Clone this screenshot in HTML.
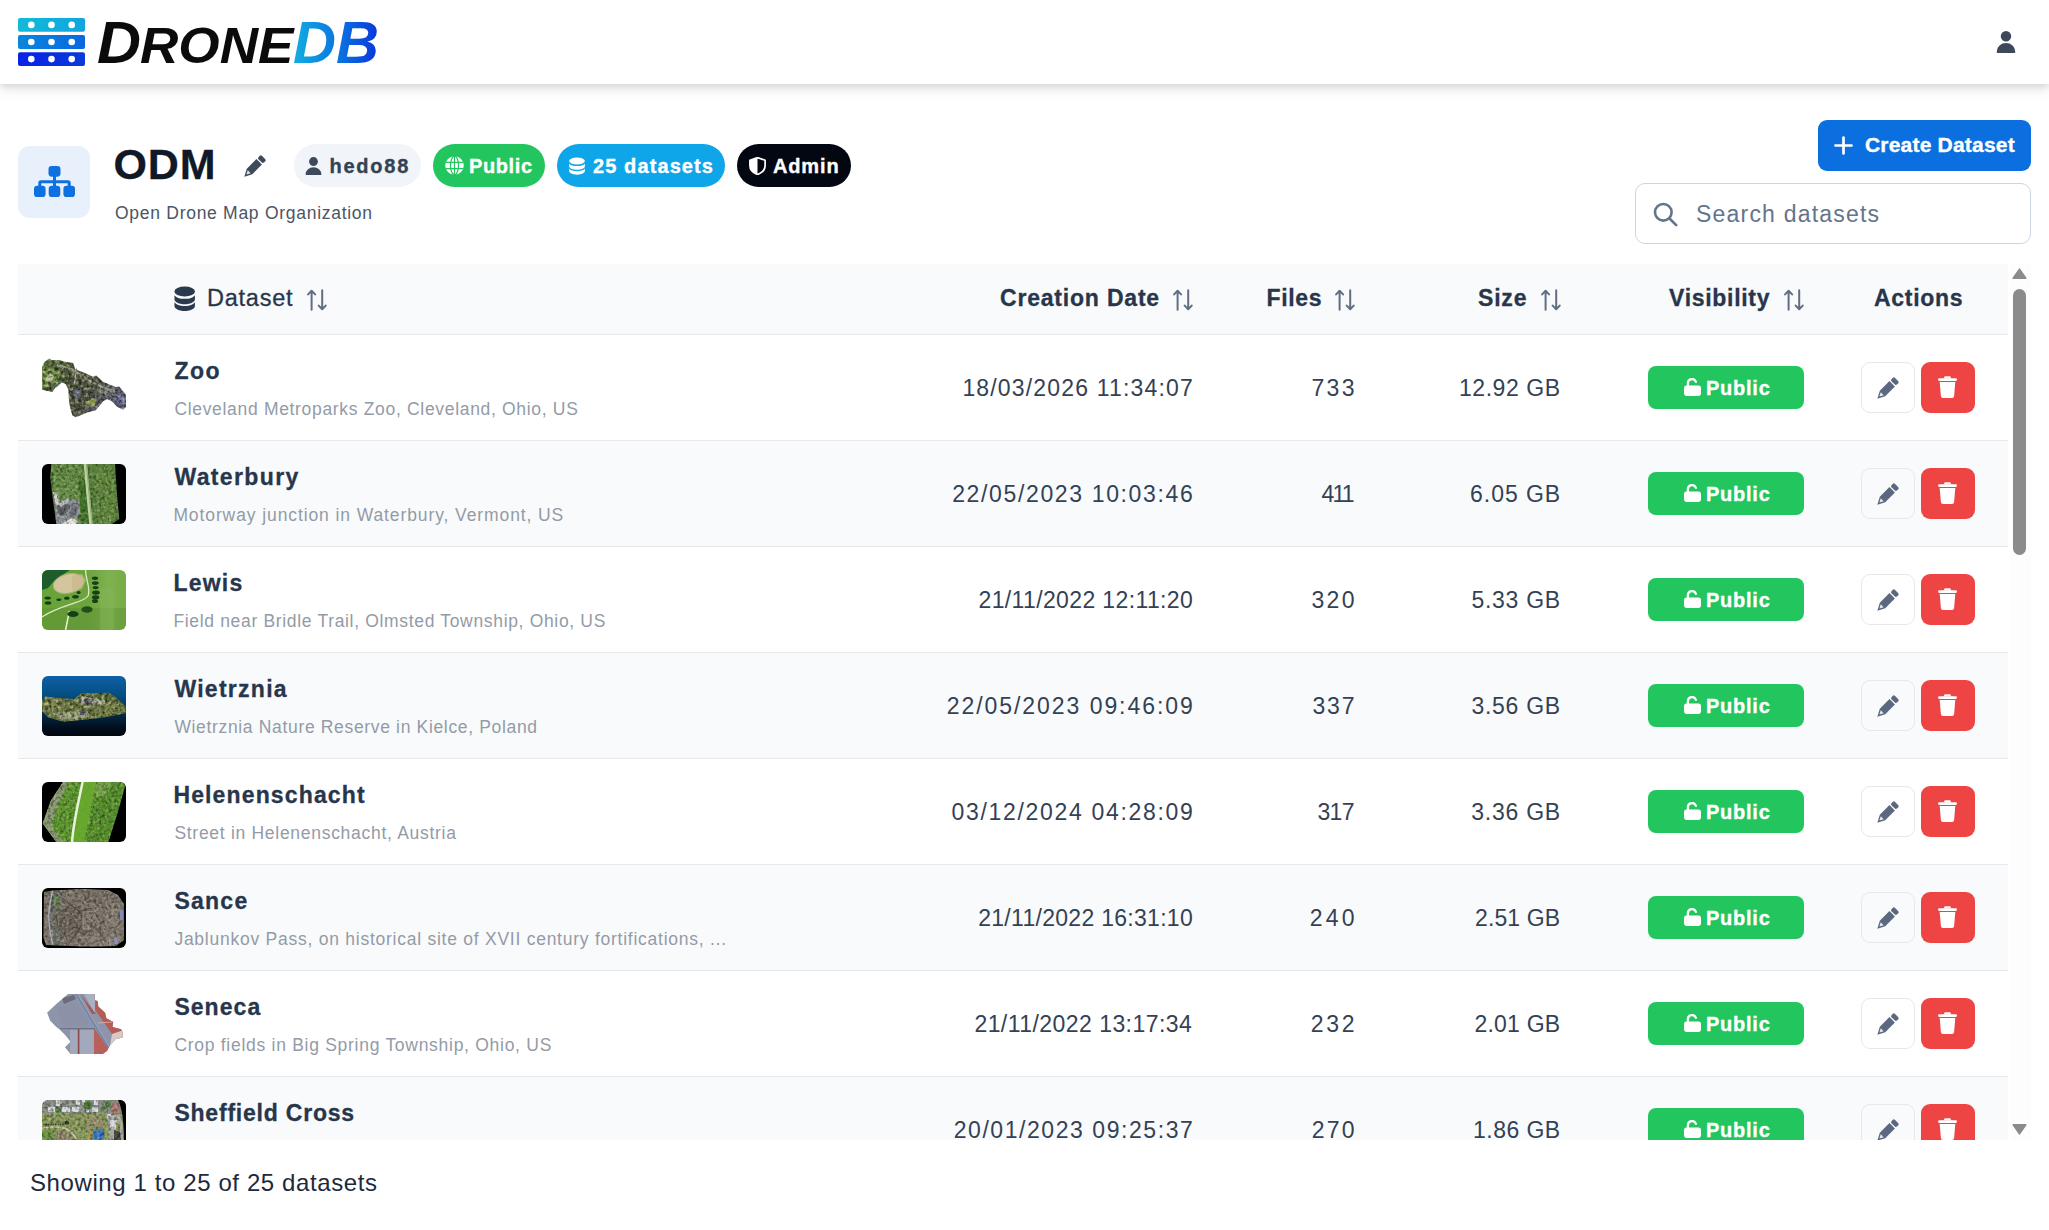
<!DOCTYPE html>
<html lang="en">
<head>
<meta charset="utf-8">
<title>DroneDB - ODM</title>
<style>
*{box-sizing:border-box;margin:0;padding:0}
html,body{width:2049px;height:1230px;overflow:hidden;background:#fff}
body{font-family:"Liberation Sans",sans-serif;color:#334155;position:relative}
svg{display:block}
.abs{position:absolute}
/* ---------- top bar ---------- */
#topbar{position:absolute;left:0;top:0;width:2049px;height:84px;background:#fff;box-shadow:0 3px 7px rgba(0,0,0,.13),0 8px 14px rgba(0,0,0,.05);z-index:5}
#logo{position:absolute;left:18px;top:18px;width:67px;height:48px}
#brand{position:absolute;left:95px;top:0;height:84px;white-space:nowrap;font-style:italic;font-weight:bold;color:#0b0b0b}
#brand span{position:absolute;bottom:21px;line-height:1;display:block}
#usericon{position:absolute;left:1996.200px;top:31.400px;width:20px;height:22px}
/* ---------- org header ---------- */
#orgbox{left:18px;top:146px;width:72px;height:72px;border-radius:12px;background:#e8f0fc}
#orgbox svg{position:absolute;left:16px;top:20px;width:41px;height:31px}
#orgname{left:113.500px;top:141px;font-size:43px;line-height:46px;font-weight:bold;color:#111827;letter-spacing:.9px}
#orgdesc{left:115px;top:201px;font-size:17.5px;line-height:24px;color:#4b5563;letter-spacing:.72px}
.chip{position:absolute;top:144px;height:43px;border-radius:22px;font-weight:bold;font-size:20px;line-height:43px;color:#fff;white-space:nowrap}
.chip svg{position:absolute}
.chip span{position:absolute;top:0}
#btncreate{left:1818px;top:120px;width:213px;height:51px;border-radius:9px;background:#0b6fe0;color:#fff;font-weight:bold;font-size:21px;line-height:51px}
#search{left:1635px;top:183px;width:396px;height:61px;border-radius:10px;border:1.4px solid #cdd5df;background:#fff;color:#64748b;font-size:23px;line-height:58px}
/* ---------- table ---------- */
#tablewrap{left:18px;top:264px;width:1990px;height:876px;overflow:hidden}
.thead{position:absolute;left:0;top:0;width:1990px;height:71px;background:#f9fafb;border-bottom:1.4px solid #e6e8ec;font-size:23px;font-weight:bold;color:#27364b}
.thead .h{position:absolute;top:0;line-height:68px;white-space:nowrap}
.thead svg.sort{position:absolute;top:24.500px;width:20px;height:22px;margin-left:-.5px}
.row{position:absolute;left:0;width:1990px;height:106px;border-bottom:1.4px solid #e6e8ec;background:#fff}
.row.alt{background:#f9fafb}
.thumb{position:absolute;left:24px;top:23px;width:84px;height:60px;border-radius:6px;overflow:hidden}
.nm{position:absolute;left:156px;top:20.600px;font-size:23px;line-height:30px;font-weight:bold;color:#27364b;white-space:nowrap}
.ds{position:absolute;left:156px;top:62px;font-size:17.5px;line-height:24px;color:#939ba7;white-space:nowrap}
.v{position:absolute;top:36.700px;font-size:23px;line-height:32px;color:#334155;white-space:nowrap}
.pub{position:absolute;left:1630px;top:31px;width:156px;height:43px;border-radius:8px;background:#22c55e;color:#fff;font-weight:bold;font-size:20px;line-height:43px}
.pub svg{position:absolute;left:36px;top:12px;width:17px;height:18px}
.pub span{position:absolute;left:58px;top:.6px;letter-spacing:.75px}
.ed{position:absolute;left:1843px;top:27px;width:54px;height:51px;border-radius:9px;border:1.4px solid #e5e8ed;background:#fff}
.row.alt .ed{background:#f9fafb}
.ed svg{position:absolute;left:11.600px;top:14px;width:25px;height:25px}
.dl{position:absolute;left:1903px;top:27px;width:54px;height:51px;border-radius:9px;background:#ef4444}
.dl svg{position:absolute;left:17px;top:14px;width:19px;height:22px}
.chip span,.pub span,#btncreate span{-webkit-text-stroke:.35px currentColor}
.nm,.thead .h,#orgname{-webkit-text-stroke:.3px currentColor}
/* scrollbar */
#sbar{left:2011px;top:264px;width:20px;height:876px;background:#fdfdfd}
#sthumb{left:2013px;top:289px;width:13px;height:266px;border-radius:7px;background:#8b8b8b}
#footer{left:30px;top:1165.500px;font-size:24px;line-height:34px;color:#1e293b;letter-spacing:.6px;white-space:nowrap}
</style>
</head>
<body>
<svg width="0" height="0" style="position:absolute">
<defs>
<linearGradient id="gdb" x1="0" y1="0" x2="1" y2="0"><stop offset="0" stop-color="#12aee0"/><stop offset=".5" stop-color="#0b78e0"/><stop offset="1" stop-color="#0a35dd"/></linearGradient>
<filter id="nz" x="0" y="0" width="100%" height="100%" color-interpolation-filters="sRGB"><feTurbulence type="fractalNoise" baseFrequency=".3" numOctaves="2" seed="4" result="n"/><feColorMatrix in="n" type="matrix" values="0 0 0 0 0 0 0 0 0 0 0 0 0 0 0 1.700 0 0 0 -.72" result="a"/><feComposite in="a" in2="SourceGraphic" operator="in" result="dk"/><feColorMatrix in="n" type="matrix" values="0 0 0 0 1 0 0 0 0 1 0 0 0 0 .85 0 1.300 0 0 -.62" result="b"/><feComposite in="b" in2="SourceGraphic" operator="in" result="lt"/><feMerge><feMergeNode in="SourceGraphic"/><feMergeNode in="dk"/><feMergeNode in="lt"/></feMerge></filter>
<filter id="nz2" x="0" y="0" width="100%" height="100%" color-interpolation-filters="sRGB"><feTurbulence type="fractalNoise" baseFrequency=".33" numOctaves="2" seed="9" result="n"/><feColorMatrix in="n" type="matrix" values="0 0 0 0 0 0 0 0 0 0 0 0 0 0 0 1.200 0 0 0 -.52" result="a"/><feComposite in="a" in2="SourceGraphic" operator="in" result="dk"/><feColorMatrix in="n" type="matrix" values="0 0 0 0 1 0 0 0 0 1 0 0 0 0 .8 0 .9 0 0 -.43" result="b"/><feComposite in="b" in2="SourceGraphic" operator="in" result="lt"/><feMerge><feMergeNode in="SourceGraphic"/><feMergeNode in="dk"/><feMergeNode in="lt"/></feMerge></filter>
<symbol id="i-pencil" viewBox="0 0 24 24"><g transform="rotate(45 12 12)"><rect x="8.300" y="-1.700" width="7.400" height="4.700" rx="1.700"/><path d="M8.300 4.300h7.400v13.100l-3.700 7-3.700-7z"/><path d="M10 17.800h4l-2 3.800z" fill="#fff" fill-opacity=".85"/></g></symbol>
<symbol id="i-user" viewBox="0 0 20 22"><circle cx="10" cy="5.300" r="5.200"/><path d="M.8 21.300v-1a9.200 8.300 0 0 1 18.400 0v1a.7.7 0 0 1-.7.700h-17a.7.700 0 0 1-.7-.700z"/></symbol>
<symbol id="i-db" viewBox="0 0 24 24"><ellipse cx="12" cy="5.200" rx="10.500" ry="4.700"/><path d="M1.500 8.600c1.600 2.300 5.700 3.500 10.500 3.500s8.900-1.200 10.500-3.500v3.800c0 2.600-4.700 4.700-10.500 4.700s-10.500-2.100-10.500-4.700z"/><path d="M1.500 15.400c1.600 2.300 5.700 3.500 10.500 3.500s8.900-1.200 10.500-3.500v3.400c0 2.600-4.700 4.700-10.500 4.700s-10.500-2.100-10.500-4.700z"/></symbol>
<symbol id="i-sort" viewBox="0 0 20 22"><g fill="none" stroke="currentColor" stroke-width="2" stroke-linecap="round" stroke-linejoin="round"><path d="M4.600 20.700v-18.800M1.100 5.400l3.500-3.700 3.500 3.700"/><path d="M15.200 1.300v18.800M11.700 16.600l3.500 3.700 3.500-3.700"/></g></symbol>
<symbol id="i-lock" viewBox="0 0 17 18"><rect x="0" y="7.600" width="17" height="10.400" rx="2.400" fill="#fff"/><path d="M3.900 8V5.200a4.100 4.100 0 0 1 8-1.300" fill="none" stroke="#fff" stroke-width="2.300" stroke-linecap="round"/></symbol>
<symbol id="i-trash" viewBox="0 0 19 22"><path d="M6.700 0.300h5.600l1 2.100h-7.600z" fill="#fff"/><rect x="0" y="2.200" width="19" height="2.700" rx="1.300" fill="#fff"/><path d="M1.700 6h15.600l-1.200 14a2.100 2.100 0 0 1-2.100 2h-9a2.100 2.100 0 0 1-2.100-2z" fill="#fff"/></symbol>
</defs>
</svg>

<!-- ============ TOP BAR ============ -->
<div id="topbar">
  <svg id="logo" viewBox="0 0 67 48">
    <defs>
      <linearGradient id="lg1" x1="0" y1="0" x2="1" y2="0"><stop offset="0" stop-color="#13b9d9"/><stop offset="1" stop-color="#0fa6e0"/></linearGradient>
      <linearGradient id="lg2" x1="0" y1="0" x2="1" y2="0"><stop offset="0" stop-color="#0a86dc"/><stop offset="1" stop-color="#0868e0"/></linearGradient>
      <linearGradient id="lg3" x1="0" y1="0" x2="1" y2="0"><stop offset="0" stop-color="#0722e8"/><stop offset="1" stop-color="#0a3ad8"/></linearGradient>
    </defs>
    <rect x="0" y="0" width="67" height="13.800" rx="2" fill="url(#lg1)"/>
    <rect x="0" y="17.100" width="67" height="13.800" rx="2" fill="url(#lg2)"/>
    <rect x="0" y="34.200" width="67" height="13.800" rx="2" fill="url(#lg3)"/>
    <g fill="#fff"><circle cx="13.300" cy="6.900" r="3.300"/><circle cx="33.500" cy="6.900" r="3.300"/><circle cx="53.700" cy="6.900" r="3.300"/>
    <circle cx="13.300" cy="24" r="3.300"/><circle cx="33.500" cy="24" r="3.300"/><circle cx="53.700" cy="24" r="3.300"/>
    <circle cx="13.300" cy="41.100" r="3.300"/><circle cx="33.500" cy="41.100" r="3.300"/><circle cx="53.700" cy="41.100" r="3.300"/></g>
  </svg>
  <svg class="abs" style="left:92px;top:10px" width="300" height="64" viewBox="0 0 300 64">
    <g font-family="Liberation Sans, sans-serif" font-weight="bold" font-style="italic">
      <text x="5" y="53" font-size="59" fill="#0b0b0b" textLength="44" lengthAdjust="spacingAndGlyphs">D</text>
      <text x="48" y="53" font-size="49.500" fill="#0b0b0b" textLength="153.500" lengthAdjust="spacingAndGlyphs">RONE</text>
      <text x="201" y="53" font-size="59" fill="url(#gdb)" textLength="86" lengthAdjust="spacingAndGlyphs">DB</text>
    </g>
  </svg>
  <svg id="usericon" viewBox="0 0 20 22" fill="#3d4859"><use href="#i-user"/></svg>
</div>

<!-- ============ ORG HEADER ============ -->
<div id="orgbox" class="abs">
  <svg viewBox="0 0 41 32" preserveAspectRatio="none" fill="#0f70e0">
    <rect x="14.500" y="0" width="12" height="11" rx="3.200"/>
    <rect x="0" y="20.500" width="11.600" height="11.500" rx="3.200"/>
    <rect x="14.700" y="20.500" width="11.600" height="11.500" rx="3.200"/>
    <rect x="29.400" y="20.500" width="11.600" height="11.500" rx="3.200"/>
    <path d="M19 10h3v11h-3zM4.300 21v-3.600a2.600 2.600 0 0 1 2.600-2.600h27.200a2.600 2.600 0 0 1 2.600 2.600v3.600h-3v-3.200h-26.400v3.200z"/>
  </svg>
</div>
<div id="orgname" class="abs">ODM</div>
<svg class="abs" style="left:240.500px;top:154.500px" width="25" height="25" viewBox="0 0 24 24" fill="#3e4959"><use href="#i-pencil"/></svg>
<div id="orgdesc" class="abs">Open Drone Map Organization</div>

<div class="chip" style="left:294px;width:127px;background:#f1f5f9;color:#334155">
  <svg style="left:11.300px;top:12.500px" width="17" height="18.700" viewBox="0 0 20 22" fill="#3e4a5c"><use href="#i-user"/></svg>
  <span style="left:35.500px;top:1px;letter-spacing:1.75px">hedo88</span>
</div>
<div class="chip" style="left:433px;width:112px;background:#22c55e">
  <svg style="left:12px;top:12px" width="19" height="19" viewBox="0 0 19 19"><circle cx="9.500" cy="9.500" r="9.300" fill="#fff"/><g fill="none" stroke="#22c55e" stroke-width="1.200"><ellipse cx="9.500" cy="9.500" rx="4" ry="9.300"/><path d="M9.500 0v19M.5 6.300h18M.5 12.700h18"/></g></svg>
  <span style="left:36px;top:1px;letter-spacing:.6px">Public</span>
</div>
<div class="chip" style="left:557px;width:168px;background:#0ea5e9">
  <svg style="left:10.500px;top:12.500px" width="18" height="18" viewBox="0 0 24 24" fill="#fff"><use href="#i-db"/></svg>
  <span style="left:36px;top:1px;letter-spacing:1.1px">25 datasets</span>
</div>
<div class="chip" style="left:737px;width:114px;background:#030712">
  <svg style="left:12px;top:13px" width="17" height="18" viewBox="0 0 17 18"><path d="M8.500 .6l7.600 2.600v5.300c0 4.300-3 7.400-7.600 9-4.600-1.600-7.600-4.700-7.600-9V3.200z" fill="none" stroke="#fff" stroke-width="1.700" stroke-linejoin="round"/><path d="M8.500 .6v16.900c-4.600-1.600-7.600-4.700-7.600-9V3.200z" fill="#fff"/></svg>
  <span style="left:36px;top:1px;letter-spacing:.85px">Admin</span>
</div>

<div id="btncreate" class="abs">
  <svg class="abs" style="left:16px;top:16px" width="19" height="19" viewBox="0 0 19 19"><path d="M9.500 1.500v16M1.500 9.500h16" stroke="#fff" stroke-width="2.700" stroke-linecap="round"/></svg>
  <span class="abs" style="left:47px;top:-1px;letter-spacing:.2px;white-space:nowrap">Create Dataset</span>
</div>
<div id="search" class="abs">
  <svg class="abs" style="left:17px;top:18px" width="25" height="25" viewBox="0 0 25 25" fill="none" stroke="#64748b" stroke-width="2.600" stroke-linecap="round"><circle cx="10.300" cy="10.300" r="8.300"/><path d="M16.500 16.500l6.700 6.700"/></svg>
  <span class="abs" style="left:60px;top:1px;letter-spacing:1.2px;white-space:nowrap">Search datasets</span>
</div>

<!-- ============ TABLE ============ -->
<div id="tablewrap" class="abs">
  <div class="thead">
    <svg class="abs" style="left:154.500px;top:21.500px" width="23.400" height="25.500" viewBox="0 0 24 24" preserveAspectRatio="none" fill="#2b394e"><use href="#i-db"/></svg>
    <div class="h" style="left:189px;font-weight:normal;font-size:23.500px;letter-spacing:.75px">Dataset</div>
    <svg class="sort" style="left:289px;color:#626d84"><use href="#i-sort"/></svg>
    <div class="h" style="left:982px;letter-spacing:.8px">Creation Date</div>
    <svg class="sort" style="left:1155px;color:#626d84"><use href="#i-sort"/></svg>
    <div class="h" style="left:1248.500px;letter-spacing:.65px">Files</div>
    <svg class="sort" style="left:1317px;color:#626d84"><use href="#i-sort"/></svg>
    <div class="h" style="left:1460px;letter-spacing:.8px">Size</div>
    <svg class="sort" style="left:1523px;color:#626d84"><use href="#i-sort"/></svg>
    <div class="h" style="left:1651px;letter-spacing:.7px">Visibility</div>
    <svg class="sort" style="left:1766px;color:#626d84"><use href="#i-sort"/></svg>
    <div class="h" style="left:1856px;letter-spacing:.7px">Actions</div>
  </div>
  <!--ROWS-START-->
  <div class="row" style="top:71px">
    <div class="thumb"><svg viewBox="0 0 84 60" width="84" height="60"><defs><linearGradient id="tz" x1="0" y1="0" x2="1" y2=".5"><stop offset="0" stop-color="#627c3b"/><stop offset=".3" stop-color="#4e5a38"/><stop offset=".7" stop-color="#505545"/><stop offset="1" stop-color="#60607a"/></linearGradient></defs>
<g filter="url(#nz)"><path d="M0 9.100 2.500 4 7.100 .5 9.900 2.200H18.500L21.300 3.400 31 5.100 33.300 11.400 41.200 14.200 50.900 18.700 54.300 17.600 61.200 23.900 73.700 29 77.100 28.400 83.900 36.400V48.900L81.100 51.800 75.400 48.900 69.700 43.200 65.100 40.900 61.200 43.200 53.800 52.300 45.200 54.600 33.800 59.200 30.400 57.500 28.100 48.900 27 43.200 26.400 31.800 23.600 26.100 20.200 24.400 15.600 26.700 11.600 31.800 10.500 34.100 .3 31.800z" fill="url(#tz)"/>
<path d="M15 7l16 5 12 8 16 9 14 5" stroke="#a3a895" stroke-width="2.400" fill="none" opacity=".8"/><path d="M34.500 10.500 32 27" stroke="#c3bda5" stroke-width="1.200"/>
<path d="M2 13l8-3 10 4-5 9-9 6-5-1z" fill="#7b9747" opacity=".8"/><path d="M4 20l4-4 5 1-4 7-4 1z" fill="#d3d7ba" opacity=".75"/><path d="M10 26l8-4 2 2-6 6z" fill="#3f6e4c" opacity=".6"/>
<path d="M29 35l9-5 8 8-4 12-9 5z" fill="#474e3b" opacity=".7"/><path d="M43 44l9-4 3 5-8 6z" fill="#929c46" opacity=".85"/><path d="M71 36l12 3v9l-9-3z" fill="#6c6c98"/><path d="M32 31l7 2-1 7-7-2z" fill="#6e6e8e" opacity=".8"/><path d="M46 48l7 1-2 4-6-1z" fill="#67678a" opacity=".7"/><path d="M58 30l8 4-2 3-8-3z" fill="#9a9d8c" opacity=".7"/></g></svg></div>
    <div class="nm" style="left:156.4px;letter-spacing:1.45px">Zoo</div>
    <div class="ds" style="left:156.4px;letter-spacing:0.68px">Cleveland Metroparks Zoo, Cleveland, Ohio, US</div>
    <div class="v" style="left:944.4px;letter-spacing:1.17px">18/03/2026 11:34:07</div>
    <div class="v" style="left:1293.4px;letter-spacing:2.36px">733</div>
    <div class="v" style="left:1440.9px;letter-spacing:0.58px">12.92 GB</div>
    <div class="pub"><svg><use href="#i-lock"/></svg><span>Public</span></div>
    <div class="ed"><svg fill="#5b6880"><use href="#i-pencil"/></svg></div>
    <div class="dl"><svg><use href="#i-trash"/></svg></div>
  </div>
  <div class="row alt" style="top:177px">
    <div class="thumb"><svg viewBox="0 0 84 60" width="84" height="60"><rect width="84" height="60" fill="#000"/>
<g filter="url(#nz2)"><path d="M9.400 0H73L74.900 29.200 77.300 55.100 69.900 60H14.300L10 29.200 8.200 12.500z" fill="#56803a"/>
<path d="M10 12h26l2 30H14z" fill="#6e964c" opacity=".75"/><path d="M52 4h20l3 50-8 5H56z" fill="#618a3e" opacity=".8"/><path d="M10 0h30v10H9z" fill="#688f46" opacity=".7"/>
<path d="M37 16l7 0 4 44h-9z" fill="#3c7026" opacity=".85"/>
<path d="M11.500 30 15 27l3 10 8-3 12 3 0 12-6 11H14.300z" fill="#8b9095"/><path d="M15 42l8-4 6 5-7 9-6-2z" fill="#5b6068"/><path d="M29 41l6 1-1 10-6 1z" fill="#6b707c"/><path d="M20 60l10-6 6 3-2 3z" fill="#e9ebe7"/><path d="M11 28l3 0 3 12-3 1z" fill="#dadfd5"/><path d="M16 40l9-5 3 2-9 6z" fill="#b9bdbc"/></g><path d="M43.400 0 46 30 49 60" stroke="#bfd2a1" stroke-width="3.400" fill="none"/><path d="M44.400 0 47 30 50 60" stroke="#86a866" stroke-width=".9" fill="none"/></svg></div>
    <div class="nm" style="left:156.4px;letter-spacing:1.38px">Waterbury</div>
    <div class="ds" style="left:155.4px;letter-spacing:0.90px">Motorway junction in Waterbury, Vermont, US</div>
    <div class="v" style="left:934.2px;letter-spacing:1.64px">22/05/2023 10:03:46</div>
    <div class="v" style="left:1303.6px;letter-spacing:-1.89px">411</div>
    <div class="v" style="left:1452.1px;letter-spacing:0.94px">6.05 GB</div>
    <div class="pub"><svg><use href="#i-lock"/></svg><span>Public</span></div>
    <div class="ed"><svg fill="#5b6880"><use href="#i-pencil"/></svg></div>
    <div class="dl"><svg><use href="#i-trash"/></svg></div>
  </div>
  <div class="row" style="top:283px">
    <div class="thumb"><svg viewBox="0 0 84 60" width="84" height="60"><defs><linearGradient id="tl" x1="0" y1="0" x2="1" y2="0"><stop offset="0" stop-color="#68a338"/><stop offset=".55" stop-color="#6ca43e"/><stop offset=".8" stop-color="#7fb150"/><stop offset="1" stop-color="#77ab46"/></linearGradient></defs><rect width="84" height="60" fill="url(#tl)"/>
<path d="M0 0h28l-8 5-8 6-6 7-6 2z" fill="#1f5c2c"/><path d="M0 38h84v22H0z" fill="#598a2f" opacity=".35"/><path d="M58 18h14v42H58z" fill="#86b658" opacity=".45"/>
<ellipse cx="26.500" cy="13.500" rx="15.500" ry="9.600" transform="rotate(-14 26.500 13.500)" fill="#d3c59d" stroke="#a9b27a" stroke-width="1"/><path d="M30 6l10-2 4 6-4 9-10 3z" fill="#c9b88c" opacity=".7"/>
<path d="M43.500 0C44 12 49 18 46 26 42 33 20 34 0 47" fill="none" stroke="#dcebc0" stroke-width="1.300"/><path d="M27.300 41 23.600 60" stroke="#e8f2d8" stroke-width="1.500"/>
<g fill="#173f14"><ellipse cx="53" cy="8.200" rx="3.200" ry="1.700"/><ellipse cx="53.300" cy="13.100" rx="3.400" ry="1.800"/><ellipse cx="53.600" cy="17.600" rx="3" ry="1.700"/><ellipse cx="54" cy="22.600" rx="3.800" ry="2.200"/><ellipse cx="53.600" cy="27.300" rx="3.600" ry="2"/><ellipse cx="53" cy="31" rx="3" ry="2"/>
<ellipse cx="5.700" cy="28" rx="3.200" ry="1.500"/><ellipse cx="6" cy="33" rx="3.400" ry="1.700"/><ellipse cx="16.800" cy="29.800" rx="2.500" ry="1.300"/><ellipse cx="24.800" cy="28.200" rx="2.800" ry="1.600"/><ellipse cx="33.500" cy="26.700" rx="3.400" ry="1.800"/><ellipse cx="36.600" cy="22.400" rx="2" ry="1.500"/><ellipse cx="31" cy="44" rx="5.600" ry="3"/><ellipse cx="45" cy="39.500" rx="5.600" ry="3.200" opacity=".85"/></g></svg></div>
    <div class="nm" style="left:155.4px;letter-spacing:1.22px">Lewis</div>
    <div class="ds" style="left:155.4px;letter-spacing:0.67px">Field near Bridle Trail, Olmsted Township, Ohio, US</div>
    <div class="v" style="left:960.5px;letter-spacing:0.37px">21/11/2022 12:11:20</div>
    <div class="v" style="left:1293.4px;letter-spacing:2.36px">320</div>
    <div class="v" style="left:1453.5px;letter-spacing:0.71px">5.33 GB</div>
    <div class="pub"><svg><use href="#i-lock"/></svg><span>Public</span></div>
    <div class="ed"><svg fill="#5b6880"><use href="#i-pencil"/></svg></div>
    <div class="dl"><svg><use href="#i-trash"/></svg></div>
  </div>
  <div class="row alt" style="top:389px">
    <div class="thumb"><svg viewBox="0 0 84 60" width="84" height="60"><defs><linearGradient id="tw" x1="0" y1="0" x2="0" y2="1"><stop offset="0" stop-color="#0e60a6"/><stop offset=".3" stop-color="#054f84"/><stop offset=".6" stop-color="#042f52"/><stop offset=".85" stop-color="#020f1e"/><stop offset="1" stop-color="#01060d"/></linearGradient></defs><rect width="84" height="60" fill="url(#tw)"/>
<g filter="url(#nz)"><path d="M0 24.200 3.200 20.500 14.300 21.700 32.200 23 38.400 17.400 66.800 16.800 73.600 21.100 83.500 30.400V37.200L61.900 41.500 21.700 45.800 6.300 41.500 0 35.300z" fill="#6d7a42"/>
<path d="M39 17.600l27 -.6 7 4.400-10 2-26-1z" fill="#5b6c36"/><path d="M35 24l6-4 8 2 14 2 1 4-16 1-8-2z" fill="#acad97"/><path d="M42 22.500h7l1 6h-7z" fill="#4d4b5a"/>
<path d="M10 37l22-2 14 2 4 4-30 3z" fill="#a5ab89" opacity=".8"/><path d="M38 35h7l1 4h-8z" fill="#5a5868"/><path d="M3 22l10 1 4 8-10 4-6-3z" fill="#7d8a4d" opacity=".8"/><path d="M60 26l16 2 6 6-20 4z" fill="#778444" opacity=".7"/></g></svg></div>
    <div class="nm" style="left:156.4px;letter-spacing:1.27px">Wietrznia</div>
    <div class="ds" style="left:156.4px;letter-spacing:0.66px">Wietrznia Nature Reserve in Kielce, Poland</div>
    <div class="v" style="left:928.7px;letter-spacing:1.95px">22/05/2023 09:46:09</div>
    <div class="v" style="left:1294.4px;letter-spacing:1.86px">337</div>
    <div class="v" style="left:1453.5px;letter-spacing:0.71px">3.56 GB</div>
    <div class="pub"><svg><use href="#i-lock"/></svg><span>Public</span></div>
    <div class="ed"><svg fill="#5b6880"><use href="#i-pencil"/></svg></div>
    <div class="dl"><svg><use href="#i-trash"/></svg></div>
  </div>
  <div class="row" style="top:495px">
    <div class="thumb"><svg viewBox="0 0 84 60" width="84" height="60"><rect width="84" height="60" fill="#000"/>
<g filter="url(#nz2)"><path d="M21.100 0H82.900V4.400L76.100 29.200 66.200 60H14.300L.7 41.500 8.800 18.700z" fill="#5c982c"/>
<path d="M21.100 0h6L15 24 9 44l12 16h-6.700L.7 41.500 8.800 18.700z" fill="#8b9b76"/><path d="M44 0h38.900V4.400L76.100 29.200 66.200 60H40z" fill="#4f8a2a" opacity=".55"/><path d="M50 0h20l-4 12-14 4z" fill="#86b058" opacity=".6"/><path d="M40 8l12 0-2 30-12 20-6 0z" fill="#64a22f" opacity=".7"/></g>
<path d="M41 0h13L48 30 42 60H30C31.500 40 36 22 41 0z" fill="#68a82f" opacity=".9"/><path d="M40.600 0C36 22 31.500 40 30 60" fill="none" stroke="#e9f1dc" stroke-width="2.500"/></svg></div>
    <div class="nm" style="left:155.4px;letter-spacing:1.14px">Helenenschacht</div>
    <div class="ds" style="left:156.4px;letter-spacing:0.71px">Street in Helenenschacht, Austria</div>
    <div class="v" style="left:933.6px;letter-spacing:1.68px">03/12/2024 04:28:09</div>
    <div class="v" style="left:1299.4px;letter-spacing:-0.64px">317</div>
    <div class="v" style="left:1453.2px;letter-spacing:0.76px">3.36 GB</div>
    <div class="pub"><svg><use href="#i-lock"/></svg><span>Public</span></div>
    <div class="ed"><svg fill="#5b6880"><use href="#i-pencil"/></svg></div>
    <div class="dl"><svg><use href="#i-trash"/></svg></div>
  </div>
  <div class="row alt" style="top:601px">
    <div class="thumb"><svg viewBox="0 0 84 60" width="84" height="60"><rect width="84" height="60" fill="#000"/>
<g filter="url(#nz2)"><path d="M2 4 10 2.500 40 1 66 2 76 7 82 16V52L74 58 40 58.500 4 57 1.500 50z" fill="#7d756d"/>
<path d="M10 3l8 0-1 20 3 34-8 0-3-30z" fill="#6a7068" opacity=".8"/><path d="M12 8l6 0 0 12-6 0z" fill="#5f7a4c" opacity=".8"/>
<path d="M14 27l14-10 10 6 10-3 8 8-4 12-10 6-8-3-10 6-8-10z" fill="#6d655e"/><path d="M41 24l10-1 4 8-5 10-9 0z" fill="#827b71"/>
<path d="M50 50l24-4 6 4-6 8-26 .5z" fill="#8a857a" opacity=".8"/><path d="M46 6l10 2 6 8-12-2z" fill="#6a5d58" opacity=".8"/><path d="M64 20l12 2 2 16-12 2z" fill="#878176" opacity=".8"/><path d="M30 2l30 1 4 8-30 4z" fill="#756a64" opacity=".6"/></g>
<path d="M14 27l14-10 10 6 10-3 8 8-4 12-10 6-8-3-10 6-8-10z" fill="none" stroke="#4d4640" stroke-width="1" opacity=".8"/><path d="M41 24l10-1 4 8-5 10-9 0z" fill="none" stroke="#a39c92" stroke-width=".7"/>
<path d="M20 10l20 16M26 57l14-20" stroke="#4a433e" stroke-width="1.100" fill="none" opacity=".8"/><path d="M44 34l12 8 8 12" stroke="#574d47" stroke-width="2.400" fill="none" opacity=".6"/>
<path d="M10.500 3C7 20 4 30 11 57" fill="none" stroke="#a8b0c0" stroke-width="1.300"/><path d="M72 50l3 0 1 6-3 0z" fill="#9090c8"/><path d="M78 22l3 0 0 10-3 0z" fill="#8888b4"/></svg></div>
    <div class="nm" style="left:156.4px;letter-spacing:1.26px">Sance</div>
    <div class="ds" style="left:156.4px;letter-spacing:0.75px">Jablunkov Pass, on historical site of XVII century fortifications, ...</div>
    <div class="v" style="left:960.2px;letter-spacing:0.29px">21/11/2022 16:31:10</div>
    <div class="v" style="left:1291.8px;letter-spacing:3.16px">240</div>
    <div class="v" style="left:1457.0px;letter-spacing:0.13px">2.51 GB</div>
    <div class="pub"><svg><use href="#i-lock"/></svg><span>Public</span></div>
    <div class="ed"><svg fill="#5b6880"><use href="#i-pencil"/></svg></div>
    <div class="dl"><svg><use href="#i-trash"/></svg></div>
  </div>
  <div class="row" style="top:707px">
    <div class="thumb"><svg viewBox="0 0 84 60" width="84" height="60"><defs><clipPath id="cs"><path d="M5.100 18.700 14.300 10 18.700 6.300 26.100 .1H52.600V6.300L55.700 6.900 56.300 12.500 63.100 18.700 64.400 24.200 71.200 27.900 70.500 32.900 79.200 35.300 81 39 80.400 43.400 73.600 45.200 68.100 51.400 65 57 60.700 60H28.500L23 53.200 28.500 47.700 23.600 41.500 17.400 35.300 14.300 32.900 8.200 26.700z"/></clipPath></defs>
<g clip-path="url(#cs)"><rect width="84" height="60" fill="#8e94a9"/><path d="M38 0h4L84 60V20L56 0z" fill="#b45d57"/><path d="M53 35h-1l-2 25h20z" fill="#b8605c"/><path d="M42 0h11v20z" fill="#a9afc4"/><path d="M38.400 0 50 20l4 0z" fill="#a45850"/><path d="M70 40l12-4v10l-14 6z" fill="#d8c8c8"/>
<path d="M28 36h24v24H28z" fill="#a3a9bc"/><path d="M34.100 0 66.500 54" stroke="#6f86a8" stroke-width="1.400"/><path d="M35.800 0 68.200 54" stroke="#9aa4bc" stroke-width="1"/><path d="M18 34.700h35" stroke="#6c748c" stroke-width="1.300"/><path d="M36.600 34.700V60" stroke="#8c4a48" stroke-width="1.600"/><path d="M56 29l14-1" stroke="#e8b0a8" stroke-width=".8"/><path d="M20 4l12-3 2 4-12 5z" fill="#6d6a7c"/><path d="M14 14l20-6 14 22-26 4z" fill="#8a90a6" opacity=".6"/></g></svg></div>
    <div class="nm" style="left:156.4px;letter-spacing:1.05px">Seneca</div>
    <div class="ds" style="left:156.4px;letter-spacing:0.72px">Crop fields in Big Spring Township, Ohio, US</div>
    <div class="v" style="left:956.4px;letter-spacing:0.45px">21/11/2022 13:17:34</div>
    <div class="v" style="left:1292.7px;letter-spacing:2.71px">232</div>
    <div class="v" style="left:1456.4px;letter-spacing:0.23px">2.01 GB</div>
    <div class="pub"><svg><use href="#i-lock"/></svg><span>Public</span></div>
    <div class="ed"><svg fill="#5b6880"><use href="#i-pencil"/></svg></div>
    <div class="dl"><svg><use href="#i-trash"/></svg></div>
  </div>
  <div class="row alt" style="top:813px">
    <div class="thumb"><svg viewBox="0 0 84 60" width="84" height="60"><g filter="url(#nz2)"><rect width="84" height="60" fill="#8b9b5c"/>
<path d="M0 0h84v13H0z" fill="#8a8f86"/><g fill="#d9dbe6"><rect x="6" y="7" width="7" height="5"/><rect x="14" y="0" width="4" height="6"/><rect x="20" y="7" width="8" height="5"/><rect x="30" y="7" width="7" height="5"/><rect x="34" y="0" width="4" height="5"/><rect x="40" y="0" width="3" height="5"/><rect x="44" y="8" width="3" height="4"/><rect x="50" y="7" width="6" height="5"/><rect x="52" y="0" width="4" height="5"/><rect x="65" y="14" width="4" height="4"/></g>
<g fill="#4d7a38"><circle cx="16" cy="10" r="3"/><circle cx="46" cy="5" r="4.500"/><circle cx="66" cy="4" r="3"/><circle cx="61" cy="9" r="2.500"/></g><path d="M70 2l8 3 0 9-8-2z" fill="#b27a78"/>
<path d="M66 16l12-2 4 18 1 28H68z" fill="#a7a9a6"/><rect x="68" y="20" width="8" height="9" fill="#d6d7de"/><rect x="74" y="21" width="4" height="16" fill="#97a25e"/><path d="M72 30l6 2 1 8h-7z" fill="#3e4038"/>
<path d="M45.700 17.300h15.600V28H45.700z" fill="#978f6e"/><path d="M12.500 30.500l18 0 4 9.500H12.500z" fill="#8f8a68"/><path d="M0 30.500h12v9.500H0z" fill="#6a9440"/><path d="M0 28c14-2 22-1 26 2s8 6 9 10" fill="none" stroke="#c9d0a6" stroke-width="1.600"/><path d="M1 24.500h22" stroke="#2d3a22" stroke-width="1.600" stroke-dasharray="1.600 .8"/><circle cx="25" cy="23" r="2.200" fill="#2f4424"/>
<rect x="51" y="29" width="11" height="11" fill="#3c88c4"/><rect x="52.600" y="31.500" width="3.300" height="8.500" fill="#3a6fd0"/><rect x="57.400" y="31.500" width="3.300" height="8.500" fill="#3a6fd0"/><path d="M47 31l2 0 0 9-2 0z" fill="#c98a3c"/></g>
<path d="M76 0h8v60h-2C82 30 82 12 76 0z" fill="#000"/></svg></div>
    <div class="nm" style="left:156.4px;letter-spacing:0.79px">Sheffield Cross</div>
    <div class="ds" style="left:155.4px;letter-spacing:0.30px">Residential area in Sheffield Cross</div>
    <div class="v" style="left:935.7px;letter-spacing:1.56px">20/01/2023 09:25:37</div>
    <div class="v" style="left:1293.7px;letter-spacing:2.21px">270</div>
    <div class="v" style="left:1455.1px;letter-spacing:0.44px">1.86 GB</div>
    <div class="pub"><svg><use href="#i-lock"/></svg><span>Public</span></div>
    <div class="ed"><svg fill="#5b6880"><use href="#i-pencil"/></svg></div>
    <div class="dl"><svg><use href="#i-trash"/></svg></div>
  </div>
  <!--ROWS-END-->
</div>

<div id="sbar" class="abs"></div>
<svg class="abs" style="left:2012px;top:268px" width="15" height="12" viewBox="0 0 15 12"><path d="M7.500 1.200 13.800 10.200H1.200z" fill="#8b8b8b" stroke="#8b8b8b" stroke-width="1.600" stroke-linejoin="round"/></svg>
<div id="sthumb" class="abs"></div>
<svg class="abs" style="left:2012px;top:1123px" width="15" height="12" viewBox="0 0 15 12"><path d="M7.500 10.800 13.800 1.800H1.200z" fill="#8b8b8b" stroke="#8b8b8b" stroke-width="1.600" stroke-linejoin="round"/></svg>

<div id="footer" class="abs">Showing 1 to 25 of 25 datasets</div>
</body>
</html>
